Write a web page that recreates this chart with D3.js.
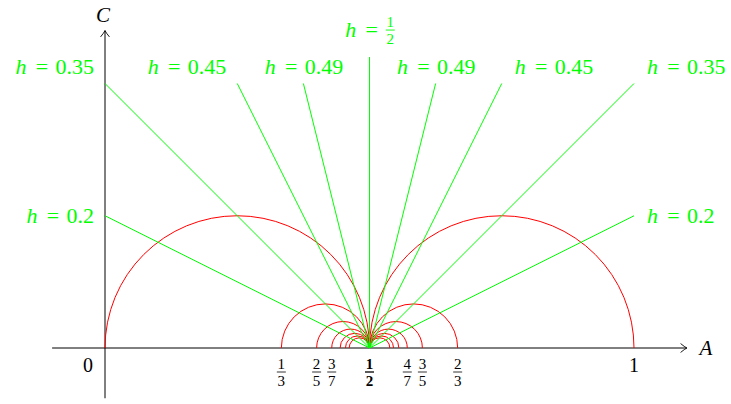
<!DOCTYPE html>
<html>
<head>
<meta charset="utf-8">
<script src="https://cdn.jsdelivr.net/npm/d3@7"></script>
<style>
  html, body { margin: 0; padding: 0; background: #fff; }
  svg { display: block; }
  text { font-family: "Liberation Serif", "DejaVu Serif", serif; }
</style>
</head>
<body>
<svg id="chart" width="731" height="404"></svg>
<script>
// Tick labels on the A axis (fractions written as "p/q")
const tickLabels = ["0", "1/3", "2/5", "3/7", "1/2", "4/7", "3/5", "2/3", "1"];
// Outer ends of the semicircles, each one ending at A = 1/2
const arcEnds = [0, 1/3, 2/5, 3/7, 4/9, 5/11, 6/13, 7/13, 6/11, 5/9, 4/7, 3/5, 2/3, 1];
// Rays leaving (1/2, 0): their h values and far end points
const rayLabels = ["0.2", "0.35", "0.45", "0.49", "1/2", "0.49", "0.45", "0.35", "0.2"];
const rayA = [0, 0, 0.25, 0.375, 0.5, 0.625, 0.75, 1, 1];
const rayC = [0.25, 0.5, 0.5, 0.5, 0.55, 0.5, 0.5, 0.5, 0.25];
const rayOrigin = [0.5, 0];
// Axis extents
const aRange = [-0.1, 1.1];
const cRange = [-0.095, 0.6];

const svg = d3.select("#chart");
const x = d3.scaleLinear().domain([0, 1]).range([105, 634]);
const y = d3.scaleLinear().domain([0, 1]).range([348, -181]);
const unit = x(1) - x(0);

const RED = "#ff0000", GREEN = "#00ff00";

function frac(s) {
  const p = s.split("/");
  return p.length === 2 ? (+p[0]) / (+p[1]) : +s;
}

// Arrow head in the style of a "->" tip
function arrowHead(g, tx, ty, angle) {
  g.append("path")
    .attr("d", "M-6,-4.2 Q-2.2,-1 0,0 Q-2.2,1 -6,4.2")
    .attr("transform", `translate(${tx},${ty}) rotate(${angle})`)
    .attr("fill", "none").attr("stroke", "#000").attr("stroke-width", 0.9)
    .attr("stroke-linecap", "round");
}

// ---- axes
const axes = svg.append("g");
axes.append("line")
  .attr("x1", x(aRange[0])).attr("x2", x(aRange[1]))
  .attr("y1", y(0)).attr("y2", y(0))
  .attr("stroke", "#000").attr("stroke-width", 1);
arrowHead(axes, x(aRange[1]), y(0), 0);
axes.append("line")
  .attr("x1", x(0)).attr("x2", x(0))
  .attr("y1", y(cRange[0])).attr("y2", y(cRange[1]))
  .attr("stroke", "#000").attr("stroke-width", 1);
arrowHead(axes, x(0), y(cRange[1]), -90);

axes.append("text").text("A")
  .attr("x", x(aRange[1]) + 19).attr("y", y(0) + 7)
  .attr("text-anchor", "middle").attr("font-style", "italic").attr("font-size", 21);
axes.append("text").text("C")
  .attr("x", x(0) - 2).attr("y", y(cRange[1]) - 9)
  .attr("text-anchor", "middle").attr("font-style", "italic").attr("font-size", 21);

// ---- tick labels
const ticks = svg.append("g");
tickLabels.forEach(s => {
  const v = frac(s);
  const cx = v === 0 ? x(v) - 17 : x(v);
  if (s.indexOf("/") < 0) {
    ticks.append("text").text(s)
      .attr("x", cx).attr("y", y(0) + 24)
      .attr("text-anchor", "middle").attr("font-size", 20);
  } else {
    const [n, d] = s.split("/");
    const bold = v === 0.5;
    const barY = y(0) + 24;
    const g = ticks.append("g").attr("font-weight", bold ? "bold" : "normal");
    g.append("text").text(n).attr("x", cx).attr("y", barY - 3)
      .attr("text-anchor", "middle").attr("font-size", 15);
    g.append("text").text(d).attr("x", cx).attr("y", barY + 13.5)
      .attr("text-anchor", "middle").attr("font-size", 15);
    g.append("line").attr("x1", cx - 4.5).attr("x2", cx + 4.5)
      .attr("y1", barY).attr("y2", barY)
      .attr("stroke", "#000").attr("stroke-width", bold ? 1.3 : 0.8);
  }
});

// ---- semicircles
const arcs = svg.append("g");
arcEnds.forEach(e => {
  const a = Math.min(e, 0.5), b = Math.max(e, 0.5);
  const cx = x((a + b) / 2), r = (b - a) / 2 * unit;
  const p = d3.path();
  p.moveTo(cx - r, y(0));
  p.arc(cx, y(0), r, Math.PI, 2 * Math.PI);
  arcs.append("path").attr("d", p.toString())
    .attr("fill", "none").attr("stroke", RED).attr("stroke-width", 1);
});

// ---- rays and their h labels
const rays = svg.append("g");
function hLabel(g, X, Y, anchor, val) {
  const lg = g.append("g").attr("fill", GREEN);
  lg.append("text").text("h").attr("x", 1).attr("y", 0)
    .attr("font-style", "italic").attr("font-size", 22);
  lg.append("text").text("=").attr("x", 21.3).attr("y", 0).attr("font-size", 22);
  if (val.indexOf("/") >= 0) {
    const [n, d] = val.split("/");
    const cx = 46, barY = -7;
    lg.append("text").text(n).attr("x", cx).attr("y", barY - 3)
      .attr("text-anchor", "middle").attr("font-size", 15);
    lg.append("text").text(d).attr("x", cx).attr("y", barY + 13.5)
      .attr("text-anchor", "middle").attr("font-size", 15);
    lg.append("line").attr("x1", cx - 4.5).attr("x2", cx + 4.5)
      .attr("y1", barY).attr("y2", barY)
      .attr("stroke", GREEN).attr("stroke-width", 0.9);
  } else {
    lg.append("text").text(val).attr("x", 41).attr("y", 0).attr("font-size", 22);
  }
  const bb = lg.node().getBBox();
  const w = bb.x + bb.width;
  let tx, ty;
  if (anchor === "e") { tx = X - 11 - w; ty = Y + 7; }
  else if (anchor === "w") { tx = X + 12; ty = Y + 7; }
  else if (anchor === "se") { tx = X - 11 - w; ty = Y - 10; }
  else if (anchor === "sw") { tx = X + 12; ty = Y - 10; }
  else { tx = X - w / 2; ty = Y - (val.indexOf("/") >= 0 ? 20 : 10); }
  lg.attr("transform", `translate(${tx},${ty})`);
}

rayLabels.forEach((lab, i) => {
  const a = rayA[i], c = rayC[i];
  rays.append("line")
    .attr("x1", x(rayOrigin[0])).attr("y1", y(rayOrigin[1]))
    .attr("x2", x(a)).attr("y2", y(c))
    .attr("stroke", GREEN).attr("stroke-width", 1);
  let anchor;
  const off = a - rayOrigin[0];
  if (c < 0.4) anchor = off < 0 ? "e" : "w";
  else if (Math.abs(off) < 0.2) anchor = "s";
  else anchor = off < 0 ? "se" : "sw";
  hLabel(rays, x(a), y(c), anchor, lab);
});
</script>
</body>
</html>
